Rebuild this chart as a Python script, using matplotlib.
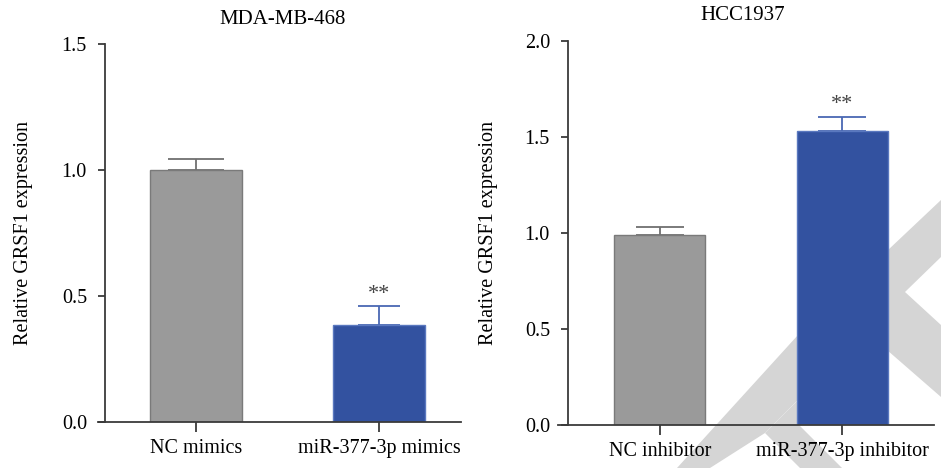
import matplotlib
matplotlib.use('Agg')
import matplotlib.pyplot as plt
from matplotlib.patches import Polygon

plt.rcParams['font.family'] = ['Liberation Serif', 'DejaVu Serif']

# data
left_title = 'MDA-MB-468'
left_groups = ['NC mimics', 'miR-377-3p mimics']
left_means = [1.0, 0.385]
left_err = [0.045, 0.075]

right_title = 'HCC1937'
right_groups = ['NC inhibitor', 'miR-377-3p inhibitor']
right_means = [0.987, 1.529]
right_err = [0.046, 0.077]

ylabel = 'Relative GRSF1 expression'
GREY, BLUE = '#9a9a9a', '#3352a0'
EDGES = ['#7a7a7a', '#5a78bf']
ERRC = ['#707070', '#4a68b3']
W, H = 941, 468

fig = plt.figure(figsize=(W / 100, H / 100), dpi=100)


def px(x0, y0, x1, y1):
    return [x0 / W, 1 - y1 / H, (x1 - x0) / W, (y1 - y0) / H]


def panel(rect, groups, means, errs, ymax, yticks, xlim, spine_frac, caps):
    ax = fig.add_axes(rect)
    ax.patch.set_alpha(0)
    xs = range(len(groups))
    ax.bar(xs, means, width=0.5, color=[GREY, BLUE], edgecolor=EDGES, linewidth=1, zorder=2)
    for x, m, e, c, cs in zip(xs, means, errs, ERRC, caps):
        ax.errorbar(x, m, yerr=[[0], [e]], color=c, capsize=cs, elinewidth=1.3,
                    capthick=1.3, zorder=1)
    # significance mark on the treated group
    ax.text(1, means[1] + errs[1] + ymax * 0.006, '**', ha='center', va='bottom',
            fontsize=16, color='#444')
    ax.set_xlim(*xlim)
    ax.set_ylim(0, ymax)
    ax.set_yticks(yticks)
    ax.set_yticklabels([f'{t:.1f}' for t in yticks])
    ax.set_xticks(list(xs))
    ax.set_xticklabels(groups)
    for s in ('top', 'right'):
        ax.spines[s].set_visible(False)
    for s in ('left', 'bottom'):
        ax.spines[s].set_color('#3a3a3a')
        ax.spines[s].set_linewidth(1.3)
    ax.spines['left'].set_position(('axes', spine_frac))
    ax.tick_params(axis='y', length=5, width=1.3, color='#3a3a3a', pad=8, labelsize=14.5)
    ax.tick_params(axis='x', length=7, width=1.3, color='#3a3a3a', pad=5, labelsize=14.5)
    ax.set_ylabel(ylabel, fontsize=14.5)
    return ax


axl = panel(px(98, 44, 461, 422), left_groups, left_means, left_err, 1.5,
            [0.0, 0.5, 1.0, 1.5], (-0.536, 1.448), 7 / 363, [20, 15])
axl.yaxis.set_label_coords(-0.18, 0.5)

axr = panel(px(558, 41, 934, 425), right_groups, right_means, right_err, 2.0,
            [0.0, 0.5, 1.0, 1.5, 2.0], (-0.56, 1.505), 10 / 376, [17, 17])
axr.yaxis.set_label_coords(-0.16, 0.5)

fig.text(283 / W, 1 - 20 / H, left_title, ha='center', va='center', fontsize=15)
fig.text(743 / W, 1 - 15 / H, right_title, ha='center', va='center', fontsize=15)

# light grey watermark shapes behind the right panel (pixel coords)
shapes = [
    [(677, 468), (798, 335), (941, 200), (941, 257), (905, 292), (765, 433), (710, 468)],
    [(765, 433), (799, 399), (799, 425), (842, 468), (800, 468)],
    [(880, 286), (905, 292), (941, 325), (941, 397), (887, 350)],
]
for pts in shapes:
    fig.patches.append(Polygon([(x / W, 1 - y / H) for x, y in pts], closed=True,
                               transform=fig.transFigure, facecolor='#d5d5d5',
                               edgecolor='none', zorder=-1))

fig.savefig('out.png', dpi=100)
